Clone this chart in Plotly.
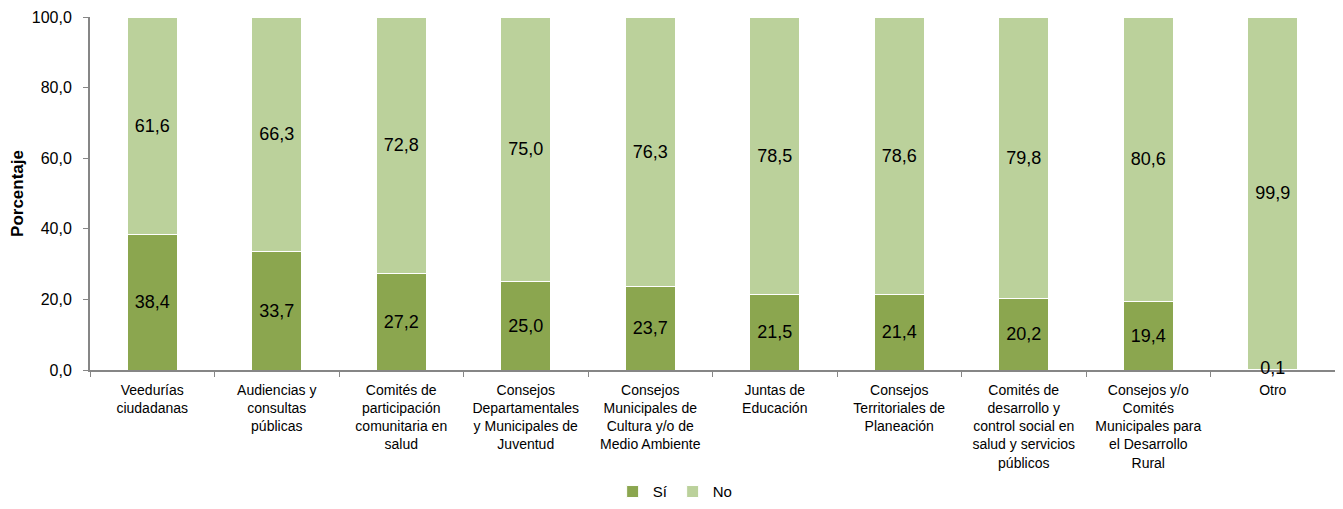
import plotly.graph_objects as go

categorias = [
    "Veedurías<br>ciudadanas",
    "Audiencias y<br>consultas<br>públicas",
    "Comités de<br>participación<br>comunitaria en<br>salud",
    "Consejos<br>Departamentales<br>y Municipales de<br>Juventud",
    "Consejos<br>Municipales de<br>Cultura y/o de<br>Medio Ambiente",
    "Juntas de<br>Educación",
    "Consejos<br>Territoriales de<br>Planeación",
    "Comités de<br>desarrollo y<br>control social en<br>salud y servicios<br>públicos",
    "Consejos y/o<br>Comités<br>Municipales para<br>el Desarrollo<br>Rural",
    "Otro",
]
si = [38.4, 33.7, 27.2, 25.0, 23.7, 21.5, 21.4, 20.2, 19.4, 0.1]
no = [61.6, 66.3, 72.8, 75.0, 76.3, 78.5, 78.6, 79.8, 80.6, 99.9]

color_si = "#8BA64F"
color_no = "#BBD19B"
gris = "#868686"
fuente = "Liberation Sans, Arial, sans-serif"


def etiqueta(v):
    return f"{v:.1f}".replace(".", ",")


fig = go.Figure()
for nombre, valores, color in [("Sí", si, color_si), ("No", no, color_no)]:
    fig.add_trace(go.Bar(
        x=categorias,
        y=valores,
        name=nombre,
        marker=dict(color=color, line=dict(color="white", width=1)),
        text=[etiqueta(v) for v in valores],
        # los segmentos muy pequeños se rotulan aparte para que no se recorten
        textposition=["inside" if v >= 2 else "none" for v in valores],
        insidetextanchor="middle",
        constraintext="none",
        textfont=dict(size=18, color="black", family=fuente),
        width=0.4,
        cliponaxis=False,
    ))

pequenos = [(c, v) for c, v in zip(categorias, si) if v < 2]
fig.add_trace(go.Scatter(
    x=[c for c, _ in pequenos],
    y=[v / 2 for _, v in pequenos],
    mode="text",
    text=[etiqueta(v) for _, v in pequenos],
    textposition="middle center",
    textfont=dict(size=18, color="black", family=fuente),
    showlegend=False,
    cliponaxis=False,
    hoverinfo="skip",
))

# la página añade 8 px de margen al body, se compensa aquí
fig.update_layout(
    barmode="stack",
    width=1343,
    height=509,
    margin=dict(l=82, r=16, t=9, b=145),
    plot_bgcolor="white",
    paper_bgcolor="white",
    separators=",.",
    font=dict(family=fuente, size=14, color="black"),
    showlegend=True,
    legend=dict(
        orientation="h",
        x=0.47, xanchor="center",
        y=-0.345, yanchor="middle",
        font=dict(size=15),
        itemwidth=30,
        traceorder="normal",
    ),
)
fig.update_yaxes(
    range=[0, 100],
    dtick=20,
    tickformat=".1f",
    showgrid=False,
    showline=True,
    linecolor=gris,
    linewidth=2,
    ticks="outside",
    ticklen=5,
    tickcolor=gris,
    tickfont=dict(size=16),
    ticklabelstandoff=8,
    title=dict(text="<b>Porcentaje</b>", font=dict(size=17)),
    zeroline=False,
    automargin=False,
)
fig.update_xaxes(
    showline=True,
    linecolor=gris,
    linewidth=2,
    ticks="outside",
    tickson="boundaries",
    ticklen=5,
    tickcolor=gris,
    tickangle=0,
    tickfont=dict(size=14),
    ticklabelstandoff=6,
    showgrid=False,
    automargin=False,
    layer="below traces",
)

fig.write_html("out.html")
